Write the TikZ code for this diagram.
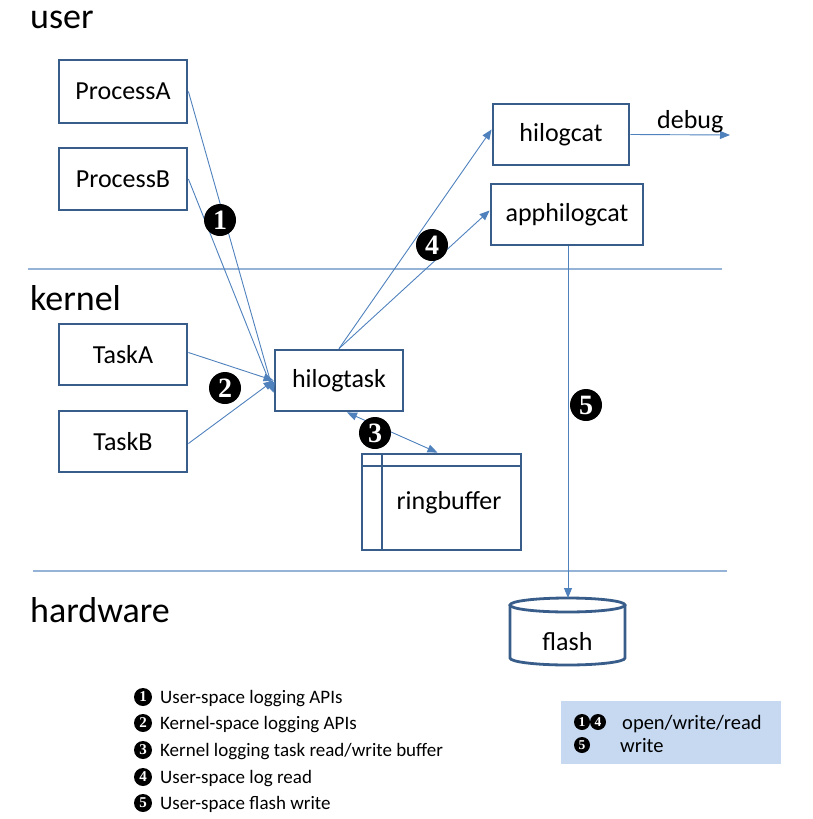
\documentclass[tikz,border=0pt]{standalone}
\usepackage{fontspec}
\setmainfont{Carlito}
\newfontfamily\numfont{Liberation Serif}
\usetikzlibrary{arrows.meta,calc}
\definecolor{boxc}{HTML}{385D8A}
\definecolor{linec}{HTML}{4F81BD}
\definecolor{sepc}{HTML}{95B3D7}
\definecolor{legbg}{HTML}{C6D9F1}
\begin{document}
\begin{tikzpicture}[x=1pt,y=-1pt,
 box/.style={draw=boxc,line width=2.8pt,fill=white,inner sep=0pt,font=\fontsize{26}{30}\selectfont},
 conn/.style={draw=linec,line width=0.9pt},
 arr/.style={conn,-{Triangle[length=10pt,width=8pt]}},
 darr/.style={conn,{Triangle[length=10pt,width=8pt]}-{Triangle[length=10pt,width=8pt]}},
 sep/.style={draw=sepc,line width=1.4pt},
 bignum/.style={circle,fill=black,text=white,inner sep=0pt,minimum size=32pt,font=\numfont\bfseries\fontsize{28}{28}\selectfont},
 smallnum/.style={circle,fill=black,text=white,inner sep=0pt,minimum size=18pt,font=\numfont\bfseries\fontsize{15}{15}\selectfont},
 keynum/.style={smallnum,minimum size=16pt,font=\numfont\bfseries\fontsize{13.5}{13.5}\selectfont},
 layer/.style={anchor=base west,inner sep=0pt,font=\fontsize{36}{40}\selectfont},
 legend/.style={anchor=base west,inner sep=0pt,font=\fontsize{19}{22}\selectfont}]
\useasboundingbox (0,0) rectangle (813,819);

% layer labels and separators
\node[layer] (luser) at (30,28) {user};
\node[layer] (lkernel) at (30,310) {kernel};
\node[layer] (lhw) at (30,622) {hardware};
\coordinate (s1a) at (28,269); \coordinate (s1b) at (722,269);
\coordinate (s2a) at (33,571); \coordinate (s2b) at (727,571);
\draw[sep] (s1a) -- (s1b);
\draw[sep] (s2a) -- (s2b);

% boxes
\node[box,minimum width=128pt,minimum height=63pt] (pa) at (123,91.5) {ProcessA};
\node[box,minimum width=128pt,minimum height=62pt] (pb) at (123,179) {ProcessB};
\node[box,minimum width=128pt,minimum height=61pt] (ta) at (123,354.5) {TaskA};
\node[box,minimum width=128pt,minimum height=61pt] (tb) at (123,441.5) {TaskB};
\node[box,minimum width=128pt,minimum height=61pt] (ht) at (339,380.5) {hilogtask};
\node[box,minimum width=136pt,minimum height=61pt] (hc) at (561,134.5) {hilogcat};
\node[box,minimum width=152pt,minimum height=61pt] (ahc) at (567,214.5) {apphilogcat};

% ringbuffer
\node[box,minimum width=159pt,minimum height=96pt] (rb) at (441.5,502) {};
\draw[draw=boxc,line width=2.8pt] (362,466) -- (521,466);
\draw[draw=boxc,line width=2.8pt] (382,454) -- (382,550);
\node[font=\fontsize{26}{30}\selectfont,inner sep=0pt] (rbt) at (449,503) {ringbuffer};

% flash cylinder
\draw[draw=boxc,line width=2.8pt,fill=white] (510,605) -- (510,658) arc[start angle=180,end angle=0,x radius=57.5,y radius=7] -- (625,605);
\draw[draw=boxc,line width=2.8pt,fill=white] (567.5,605) ellipse[x radius=57.5,y radius=7];
\node[font=\fontsize{26}{30}\selectfont,inner sep=0pt] (fl) at (567.5,642) {flash};
\coordinate (ftop) at (568,598);

% connectors
\draw[arr] (pa.east) -- ($(ht.west)+(0,12)$);
\draw[arr] (pb.east) -- ($(ht.west)+(0,12)$);
\draw[arr] ([yshift=2pt]ta.east) -- ($(ht.west)+(0,0)$);
\draw[arr] ([yshift=-2pt]tb.east) -- ($(ht.west)+(0,0)$);
\draw[arr] (ht.north) -- ($(hc.west)+(0,-5)$);
\draw[arr] (ht.north) -- ($(ahc.west)+(0,-4)$);
\draw[darr] ($(ht.south)+(8,0)$) -- ($(rb.north)+(-4,0)$);
\draw[arr] (ahc.south -| ftop) -- (ftop);
\coordinate (dbg) at (730,135);
\draw[arr] (hc.east) -- (dbg);
\node[font=\fontsize{26}{30}\selectfont,inner sep=0pt,anchor=base west] (dbgt) at (657,128) {debug};

% numbers on diagram
\node[bignum] (n1) at (220,220) {1};
\node[bignum] (n2) at (225,388) {2};
\node[bignum] (n3) at (375,433) {3};
\node[bignum] (n4) at (432,245) {4};
\node[bignum] (n5) at (586,405) {5};

% legend
\node[smallnum] (l1) at (143,697) {1};
\node[legend] (lt1) at (160,703) {User-space logging APIs};
\node[smallnum] (l2) at (143,723) {2};
\node[legend] (lt2) at (160,729) {Kernel-space logging APIs};
\node[smallnum] (l3) at (143,750) {3};
\node[legend] (lt3) at (160,756) {Kernel logging task read/write buffer};
\node[smallnum] (l4) at (143,777) {4};
\node[legend] (lt4) at (160,783) {User-space log read};
\node[smallnum] (l5) at (143,803) {5};
\node[legend] (lt5) at (160,809) {User-space flash write};

% key box
\node[fill=legbg,minimum width=220pt,minimum height=63pt,inner sep=0pt] (key) at (671,732.5) {};
\node[keynum] (k1) at (582,722) {1};
\node[keynum] (k4) at (598,722) {4};
\node[keynum] (k5) at (582,745) {5};
\node[legend,font=\fontsize{20.5}{24}\selectfont] (kt1) at (622,729) {open/write/read};
\node[legend,font=\fontsize{20.5}{24}\selectfont] (kt2) at (620,752) {write};
\end{tikzpicture}
\end{document}
